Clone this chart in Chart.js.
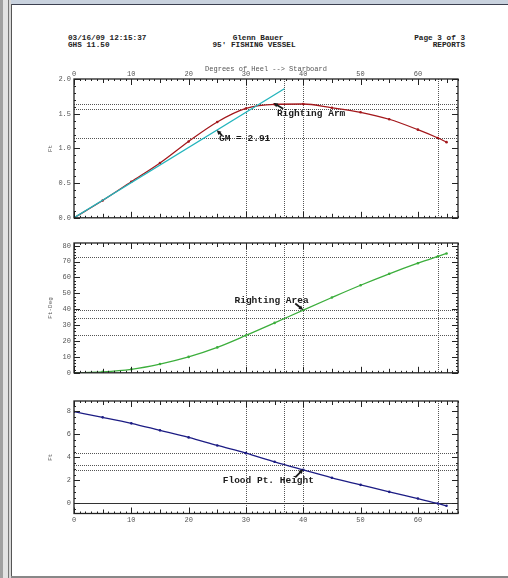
<!DOCTYPE html>
<html>
<head>
<meta charset="utf-8">
<script src="https://cdn.jsdelivr.net/npm/chart.js@4.4.1/dist/chart.umd.min.js"></script>
<style>
  html, body { margin: 0; padding: 0; background: #fff; }
  body { width: 508px; height: 578px; position: relative; overflow: hidden; font-family: "Liberation Mono", monospace; }
  .hdr { position: absolute; font-size: 7.7px; font-weight: bold; color: #222; white-space: pre; line-height: 8px; }
  .frame { position: absolute; }
  canvas { position: absolute; left: 0; }
</style>
</head>
<body>
<!-- window frame -->
<div class="frame" style="left:0;top:0;width:508px;height:4px;background:#c9d2de"></div>
<div class="frame" style="left:11px;top:4px;width:497px;height:1px;background:#3c4050"></div>
<div class="frame" style="left:0;top:0;width:3px;height:578px;background:#a0a0a0"></div>
<div class="frame" style="left:3px;top:0;width:5px;height:578px;background:#e2e2e2"></div>
<div class="frame" style="left:8px;top:0;width:1px;height:578px;background:#777"></div>
<div class="frame" style="left:9px;top:0;width:2px;height:578px;background:#d8d8d8"></div>
<div class="frame" style="left:11px;top:4px;width:1px;height:574px;background:#555"></div>
<div class="frame" style="left:11px;top:576px;width:497px;height:2px;background:#888"></div>

<div class="hdr" style="left:68px;top:34px">03/16/09 12:15:37</div>
<div class="hdr" style="left:68px;top:40.5px">GHS 11.50</div>
<div class="hdr" style="left:158px;top:34px;width:200px;text-align:center">Glenn Bauer</div>
<div class="hdr" style="left:154px;top:40.5px;width:200px;text-align:center">95' FISHING VESSEL</div>
<div class="hdr" style="left:265px;top:34px;width:200px;text-align:right">Page 3 of 3</div>
<div class="hdr" style="left:265px;top:40.5px;width:200px;text-align:right">REPORTS</div>

<canvas id="armChart" width="508" height="165" style="top:60px"></canvas>
<canvas id="areaChart" width="508" height="145" style="top:235px"></canvas>
<canvas id="floodChart" width="508" height="140" style="top:392px"></canvas>

<script>
// heel angles (degrees) at which the curves are sampled
const heelAngles = [0, 5, 10, 15, 20, 25, 30, 35, 40, 45, 50, 55, 60, 63.5, 65];
// righting arm (ft)
const rightingArm = [0, 0.25, 0.52, 0.79, 1.10, 1.38, 1.575, 1.635, 1.64, 1.585, 1.52, 1.42, 1.27, 1.15, 1.09];
// righting area (ft-deg)
const rightingArea = [0, 0.6, 2.2, 5.5, 10.0, 16.0, 23.5, 31.4, 39.5, 47.4, 55.1, 62.3, 69.0, 73.3, 75.1];
// flood point height (ft)
const floodHeight = [7.97, 7.48, 6.96, 6.35, 5.74, 5.04, 4.37, 3.62, 2.92, 2.23, 1.62, 1.01, 0.43, 0.0, -0.2];
// GM = 2.91 line, end points
const gmAngles = [0, 36.7];
const gmValues = [0, 1.86];

const xTicks = [0, 10, 20, 30, 40, 50, 60];
const armTicks = [0, 0.5, 1.0, 1.5, 2.0];
const areaTicks = [0, 10, 20, 30, 40, 50, 60, 70, 80];
const floodTicks = [0, 2, 4, 6, 8];

// reference lines
const keyAngles = [30, 36.7, 40, 63.5];
const armRefs = [1.645, 1.57, 1.15];
const areaRefs = [73.2, 39.5, 34.3, 23.5];
const floodRefs = [4.4, 3.38, 2.95];

const pts = (xs, ys) => xs.map((x, i) => ({ x: x, y: ys[i] }));

const decor = {
  id: "decor",
  beforeDatasetsDraw(chart, args, o) {
    const { ctx, chartArea: a, scales: { x, y } } = chart;
    ctx.save();
    ctx.strokeStyle = "#555";
    ctx.lineWidth = 1;
    ctx.setLineDash([1, 1]);
    ctx.beginPath();
    keyAngles.forEach((v) => {
      const px = Math.round(x.getPixelForValue(v)) + 0.5;
      ctx.moveTo(px, a.top);
      ctx.lineTo(px, a.bottom);
    });
    o.hLines.forEach((v) => {
      const py = Math.round(y.getPixelForValue(v)) + 0.5;
      ctx.moveTo(a.left, py);
      ctx.lineTo(a.right, py);
    });
    ctx.stroke();
    ctx.setLineDash([]);
    if (o.zeroLine) {
      const py = Math.round(y.getPixelForValue(0)) + 0.5;
      ctx.strokeStyle = "#333";
      ctx.beginPath();
      ctx.moveTo(a.left, py);
      ctx.lineTo(a.right, py);
      ctx.stroke();
    }
    ctx.restore();
  },
  afterDatasetsDraw(chart, args, o) {
    const { ctx, chartArea: a, scales: { x, y } } = chart;
    ctx.save();
    ctx.strokeStyle = "#222";
    ctx.lineWidth = 1.3;
    ctx.strokeRect(a.left, a.top, a.right - a.left, a.bottom - a.top);

    // inward ticks
    ctx.lineWidth = 1;
    ctx.beginPath();
    for (let d = 0; d <= 67; d++) {
      const len = d % 10 === 0 ? 6 : d % 5 === 0 ? 4 : 2;
      const px = Math.round(x.getPixelForValue(d)) + 0.5;
      ctx.moveTo(px, a.top);
      ctx.lineTo(px, a.top + len);
      ctx.moveTo(px, a.bottom);
      ctx.lineTo(px, a.bottom - len);
    }
    for (let i = Math.ceil(o.yMin / o.minor); i * o.minor <= o.yMax + 1e-9; i++) {
      const v = i * o.minor;
      const r = v / o.major;
      const len = Math.abs(r - Math.round(r)) < 1e-6 ? 6 : 2;
      const py = Math.round(y.getPixelForValue(v)) + 0.5;
      ctx.moveTo(a.left, py);
      ctx.lineTo(a.left + len, py);
      ctx.moveTo(a.right, py);
      ctx.lineTo(a.right - len, py);
    }
    ctx.stroke();

    // notes with arrows
    ctx.fillStyle = "#1a1a1a";
    ctx.strokeStyle = "#1a1a1a";
    ctx.font = "bold 9.5px 'Liberation Mono', monospace";
    ctx.textBaseline = "middle";
    ctx.textAlign = "left";
    o.notes.forEach((n) => {
      ctx.fillText(n.text, x.getPixelForValue(n.tx), y.getPixelForValue(n.ty));
      const x0 = x.getPixelForValue(n.ax), y0 = y.getPixelForValue(n.ay);
      const x1 = x.getPixelForValue(n.bx), y1 = y.getPixelForValue(n.by);
      const ang = Math.atan2(y1 - y0, x1 - x0);
      ctx.lineWidth = 1.8;
      ctx.beginPath();
      ctx.moveTo(x0, y0);
      ctx.lineTo(x1 - 3 * Math.cos(ang), y1 - 3 * Math.sin(ang));
      ctx.stroke();
      ctx.beginPath();
      ctx.moveTo(x1, y1);
      ctx.lineTo(x1 - 5 * Math.cos(ang - 0.45), y1 - 5 * Math.sin(ang - 0.45));
      ctx.lineTo(x1 - 5 * Math.cos(ang + 0.45), y1 - 5 * Math.sin(ang + 0.45));
      ctx.closePath();
      ctx.fill();
    });
    ctx.restore();
  },
};

const tickFont = { family: "'Liberation Mono', monospace", size: 7 };

function makeChart(id, cfg) {
  const ctx = document.getElementById(id).getContext("2d");
  return new Chart(ctx, {
    type: "line",
    data: { datasets: cfg.datasets },
    plugins: [decor],
    options: {
      responsive: false,
      animation: false,
      layout: { padding: { left: 0, right: 50, top: cfg.padTop, bottom: cfg.padBottom } },
      plugins: {
        legend: { display: false },
        tooltip: { enabled: false },
        decor: {
          hLines: cfg.hLines,
          zeroLine: cfg.zeroLine,
          yMin: cfg.yMin,
          yMax: cfg.yMax,
          minor: cfg.minor,
          major: cfg.major,
          notes: cfg.notes,
        },
      },
      scales: {
        x: {
          type: "linear",
          min: 0,
          max: 67,
          display: !!cfg.xPos,
          position: cfg.xPos || "bottom",
          grid: { display: false, drawTicks: false },
          border: { display: false },
          afterBuildTicks: (s) => { s.ticks = xTicks.map((v) => ({ value: v })); },
          afterFit: (s) => { s.height = cfg.xHeight; },
          ticks: { font: tickFont, color: "#555", padding: cfg.xPad, maxRotation: 0, autoSkip: false },
          title: {
            display: !!cfg.xTitle,
            text: cfg.xTitle || "",
            font: tickFont,
            color: "#555",
            padding: { top: 5, bottom: 0 },
          },
        },
        y: {
          type: "linear",
          min: cfg.yMin,
          max: cfg.yMax,
          grid: { display: false, drawTicks: false },
          border: { display: false },
          afterBuildTicks: (s) => { s.ticks = cfg.yTicks.map((v) => ({ value: v })); },
          afterFit: (s) => { s.width = 74; },
          ticks: {
            font: tickFont,
            color: "#555",
            padding: 3,
            autoSkip: false,
            callback: (v) => (cfg.decimals ? v.toFixed(cfg.decimals) : String(v)),
          },
          title: {
            display: true,
            text: cfg.yTitle,
            font: { family: "'Liberation Mono', monospace", size: 6 },
            color: "#555",
            padding: { top: 47, bottom: 0 },
          },
        },
      },
    },
  });
}

const lineStyle = (data, color) => ({
  data: data,
  borderColor: color,
  backgroundColor: color,
  borderWidth: 1.3,
  pointRadius: 1.3,
  pointBorderWidth: 0,
  cubicInterpolationMode: "monotone",
  fill: false,
});

makeChart("armChart", {
  datasets: [
    { ...lineStyle(pts(gmAngles, gmValues), "#22b4bc"), pointRadius: 0 },
    lineStyle(pts(heelAngles, rightingArm), "#a3171b"),
  ],
  padTop: 0,
  padBottom: 5,
  xPos: "top",
  xHeight: 19,
  xPad: 1,
  xTitle: "Degrees of Heel --> Starboard",
  yMin: 0,
  yMax: 2.0,
  yTicks: armTicks,
  decimals: 1,
  minor: 0.1,
  major: 0.5,
  yTitle: "Ft",
  hLines: armRefs,
  notes: [
    { text: "Righting Arm", tx: 35.4, ty: 1.5, ax: 36.5, ay: 1.57, bx: 34.8, by: 1.655 },
    { text: "GM = 2.91", tx: 25.3, ty: 1.135, ax: 25.8, ay: 1.19, bx: 24.9, by: 1.262 },
  ],
});

makeChart("areaChart", {
  datasets: [lineStyle(pts(heelAngles, rightingArea), "#3cae3c")],
  padTop: 8,
  padBottom: 4,
  xPos: null,
  xHeight: 0,
  xPad: 0,
  yMin: 0,
  yMax: 81.7,
  yTicks: areaTicks,
  minor: 2,
  major: 10,
  yTitle: "Ft-Deg",
  hLines: areaRefs,
  notes: [
    { text: "Righting Area", tx: 28.0, ty: 45.7, ax: 38.6, ay: 43.6, bx: 40, by: 39.6 },
  ],
});

makeChart("floodChart", {
  datasets: [lineStyle(pts(heelAngles, floodHeight), "#1c1c84")],
  padTop: 9,
  padBottom: 0,
  xPos: "bottom",
  xHeight: 18.5,
  xPad: 2,
  yMin: -0.87,
  yMax: 8.9,
  yTicks: floodTicks,
  minor: 0.5,
  major: 2,
  yTitle: "Ft",
  hLines: floodRefs,
  zeroLine: true,
  notes: [
    { text: "Flood Pt. Height", tx: 25.95, ty: 1.97, ax: 38.6, ay: 2.26, bx: 40, by: 2.97 },
  ],
});
</script>
</body>
</html>
